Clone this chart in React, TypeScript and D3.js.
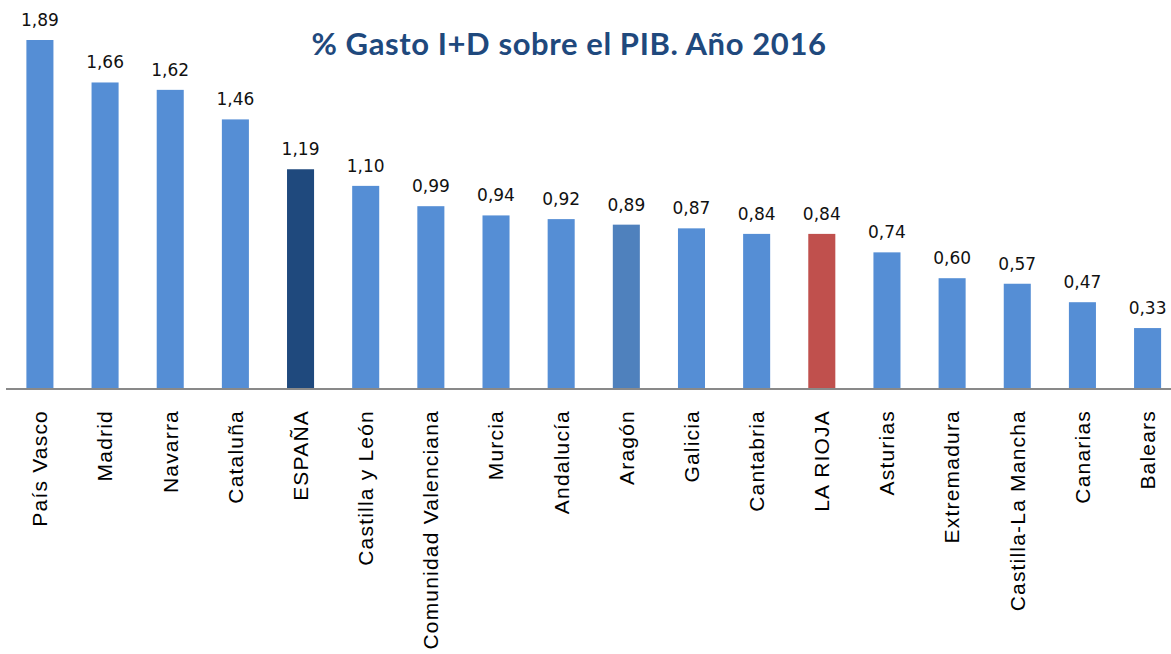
import React from "react";
import * as d3 from "d3";

const categories = [
  "País Vasco", "Madrid", "Navarra", "Cataluña", "ESPAÑA", "Castilla y León",
  "Comunidad Valenciana", "Murcia", "Andalucía", "Aragón", "Galicia", "Cantabria",
  "LA RIOJA", "Asturias", "Extremadura", "Castilla-La Mancha", "Canarias", "Balears",
];
const values = [1.89, 1.66, 1.62, 1.46, 1.19, 1.10, 0.99, 0.94, 0.92, 0.89, 0.87, 0.84, 0.84, 0.74, 0.60, 0.57, 0.47, 0.33];
const highlight: Record<string, string> = {
  "ESPAÑA": "#1F497D",
  "Aragón": "#4F81BD",
  "LA RIOJA": "#C0504D",
};
const baseColor = "#558ED5";
const title = "% Gasto I+D sobre el PIB. Año 2016";

export default function App() {
  const W = 1171, H = 654;
  const baseY = 389;
  const x = d3.scaleBand<string>().domain(categories).range([7.5, 1180]).paddingInner(0.585).paddingOuter(0.29);
  const y = d3.scaleLinear().domain([0, 1.89]).range([baseY, 40]);
  const fmt = (v: number) => v.toFixed(2).replace(".", ",");
  return (
    <svg width={W} height={H} style={{ position: "absolute", left: 0, top: 0, background: "#fff" }}>
      <text x={569} y={55} textAnchor="middle" fontFamily="Lato" fontWeight="bold" fontSize={31} letterSpacing={0.6} fill="#1F497D">{title}</text>
      {categories.map((c, i) => {
        const bx = x(c)!;
        const bw = x.bandwidth();
        const top = y(values[i]);
        const cx = bx + bw / 2;
        return (
          <g key={c}>
            <rect x={bx} y={top} width={bw} height={baseY - top} fill={highlight[c] || baseColor} />
            <text x={cx} y={top - 14} textAnchor="middle" fontFamily="DejaVu Sans" fontSize={17} fill="#111">{fmt(values[i])}</text>
            <text transform={`translate(${cx},410) rotate(-90)`} textAnchor="end" dy="0.35em" fontFamily="Liberation Sans" fontSize={21} letterSpacing={1.2} fill="#000">{c}</text>
          </g>
        );
      })}
      <line x1={6} x2={1171} y1={baseY} y2={baseY} stroke="#898989" strokeWidth={2} />
    </svg>
  );
}
